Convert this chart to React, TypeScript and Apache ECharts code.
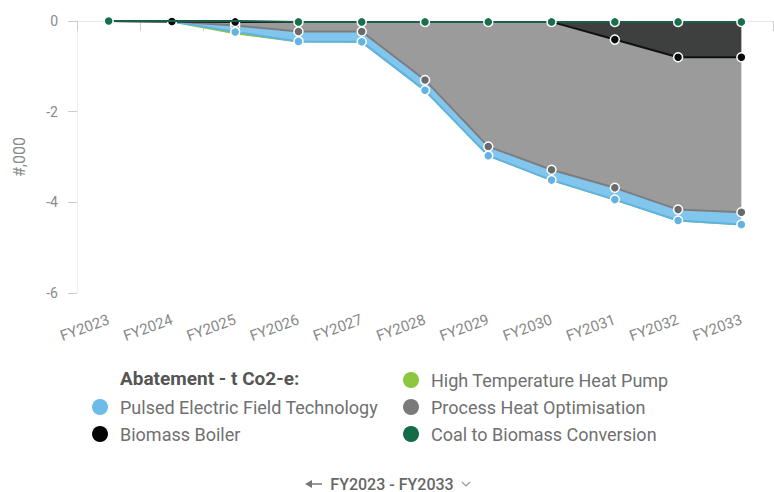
import React, { useEffect, useRef } from "react";
import * as echarts from "echarts";

// Fiscal years on the category axis
const years = [
  "FY2023", "FY2024", "FY2025", "FY2026", "FY2027", "FY2028",
  "FY2029", "FY2030", "FY2031", "FY2032", "FY2033",
];

// Abatement per project, in thousands of t CO2-e (negative = reduction)
const coalToBiomass = [0, 0, 0, -0.02, -0.02, -0.02, -0.02, -0.02, -0.02, -0.02, -0.02];
const biomassBoiler = [0, -0.01, -0.02, 0, 0, 0, 0, 0, -0.39, -0.78, -0.78];
const processHeat = [0, 0, -0.08, -0.21, -0.21, -1.28, -2.75, -3.26, -3.27, -3.36, -3.42];
const pulsedElectric = [0, 0, -0.14, -0.22, -0.23, -0.23, -0.2, -0.23, -0.26, -0.24, -0.27];
const heatPump = [0, 0, -0.03, 0, 0, 0, 0, 0, 0, 0, 0];

// Value axis ticks
const yMin = -6;
const yMax = 0;
const yStep = 2;

const FONT = "Roboto, 'Noto Sans', sans-serif";

export default function App() {
  const ref = useRef<HTMLDivElement>(null);

  useEffect(() => {
    if (!ref.current) return;
    const chart = echarts.init(ref.current, undefined, { renderer: "svg" });

    const markerWhenNonZero = (v: any) => (Number(v) === 0 ? 0 : 9);
    // boiler markers sitting on the zero line take the place of the coal markers
    const coalMarker = (_v: any, p: any) => {
      const b = biomassBoiler[p.dataIndex];
      return b !== 0 && Math.abs(b) < 0.05 ? 0 : 9;
    };

    const mk = (
      name: string,
      data: number[],
      line: string,
      area: string,
      marker: string,
      z: number,
      symbolSize: any,
      showSymbol = true
    ) => ({
      name,
      type: "line",
      stack: "abatement",
      data,
      z,
      symbol: "circle",
      symbolSize,
      showSymbol,
      lineStyle: { color: line, width: 2 },
      itemStyle: { color: marker, borderColor: "#ffffff", borderWidth: 1.5 },
      areaStyle: { color: area, opacity: 1 },
      emphasis: { disabled: true },
    });

    const legendText = { color: "#707070", fontSize: 18, fontFamily: FONT };

    chart.setOption({
      animation: false,
      textStyle: { fontFamily: FONT },
      grid: { left: 77, right: 1, top: 21, bottom: 199, containLabel: false },
      xAxis: {
        type: "category",
        data: years,
        boundaryGap: true,
        axisLine: { show: true, lineStyle: { color: "#e8e8e8", width: 1 } },
        axisTick: { show: true, length: 10, lineStyle: { color: "#cfcfcf" } },
        axisLabel: {
          interval: 0,
          rotate: 20,
          margin: 26,
          color: "#888888",
          fontSize: 15,
          fontFamily: FONT,
        },
      },
      yAxis: {
        type: "value",
        min: yMin,
        max: yMax,
        interval: yStep,
        name: "#,000",
        nameLocation: "middle",
        nameGap: 50,
        nameTextStyle: { color: "#8a8a8a", fontSize: 16, fontFamily: FONT },
        axisLine: { show: true, lineStyle: { color: "#eeeeee" } },
        axisTick: { show: true, length: 9, lineStyle: { color: "#cccccc" } },
        axisLabel: { color: "#8a8a8a", fontSize: 14, margin: 19, fontFamily: FONT },
        splitLine: { show: false },
      },
      legend: [
        {
          data: [
            { name: "Pulsed Electric Field Technology", itemStyle: { color: "#6cbbe8", borderWidth: 0 } },
            { name: "Biomass Boiler", itemStyle: { color: "#050505", borderWidth: 0 } },
          ],
          orient: "vertical",
          left: 87,
          top: 393,
          icon: "circle",
          itemWidth: 30,
          itemHeight: 16,
          itemGap: 9,
          textStyle: legendText,
          selectedMode: false,
        },
        {
          data: [
            { name: "High Temperature Heat Pump", itemStyle: { color: "#8dc63f", borderWidth: 0 } },
            { name: "Process Heat Optimisation", itemStyle: { color: "#7a7a7a", borderWidth: 0 } },
            { name: "Coal to Biomass Conversion", itemStyle: { color: "#146b47", borderWidth: 0 } },
          ],
          orient: "vertical",
          left: 398,
          top: 366,
          icon: "circle",
          itemWidth: 30,
          itemHeight: 16,
          itemGap: 9,
          textStyle: legendText,
          selectedMode: false,
        },
      ],
      graphic: [
        {
          type: "text",
          x: 120,
          y: 378,
          style: {
            text: "Abatement - t Co2-e:",
            fill: "#555555",
            fontSize: 19,
            fontWeight: "bold",
            fontFamily: FONT,
            verticalAlign: "middle",
          },
        },
        {
          type: "text",
          x: 392,
          y: 484,
          style: {
            text: "FY2023 - FY2033",
            fill: "#666666",
            fontSize: 16,
            fontWeight: 500,
            fontFamily: FONT,
            align: "center",
            verticalAlign: "middle",
          },
        },
        {
          type: "line",
          shape: { x1: 310, y1: 484, x2: 322, y2: 484 },
          style: { stroke: "#777777", lineWidth: 1.5 },
        },
        {
          type: "polygon",
          shape: { points: [[305, 484], [312, 480], [312, 488]] },
          style: { fill: "#777777" },
        },
        {
          type: "polyline",
          shape: { points: [[462, 482], [466, 486], [470, 482]] },
          style: { stroke: "#999999", lineWidth: 1.2, fill: "none" },
        },
      ],
      series: [
        mk("Coal to Biomass Conversion", coalToBiomass, "#1b5e43", "#235c44", "#187049", 4, coalMarker),
        mk("Biomass Boiler", biomassBoiler, "#111111", "#3e3f3f", "#0a0a0a", 3, markerWhenNonZero),
        mk("Process Heat Optimisation", processHeat, "#7d7d7d", "#9b9b9b", "#6a6a6a", 2, markerWhenNonZero),
        mk("Pulsed Electric Field Technology", pulsedElectric, "#5fb2e2", "#82c6ee", "#62b3e0", 2, markerWhenNonZero),
        mk("High Temperature Heat Pump", heatPump, "#8dc63f", "#a6d46a", "#8dc63f", 1, 0, false),
      ],
    });

    return () => chart.dispose();
  }, []);

  return (
    <div
      ref={ref}
      style={{ position: "fixed", left: 0, top: 0, width: 774, height: 492, background: "#ffffff" }}
    />
  );
}
